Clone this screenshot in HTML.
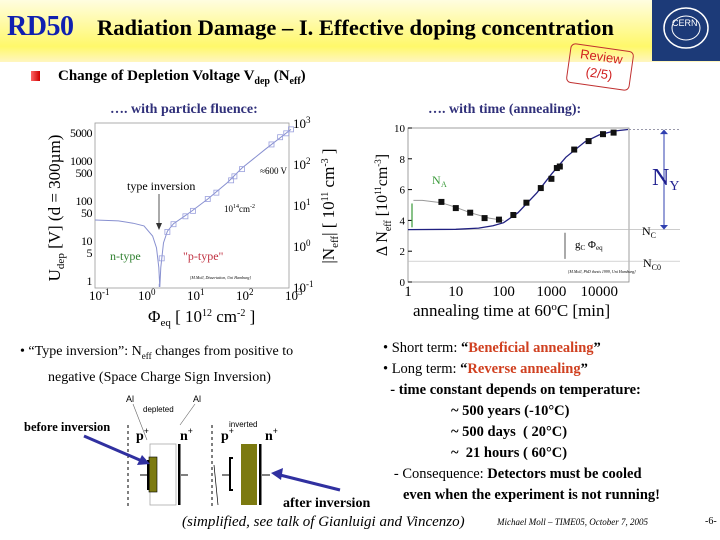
<!DOCTYPE html>
<html><head><meta charset="utf-8">
<style>
body{margin:0;width:720px;height:540px;overflow:hidden;background:#fff;position:relative;font-family:"Liberation Serif",serif;}
.a{position:absolute;white-space:nowrap;}
</style></head>
<body>
<div class="a" style="left:0;top:0;width:720px;height:62px;background:linear-gradient(#fffde0,#fff86a 75%,#fff6c0);"></div>
<div class="a" style="left:7px;top:11px;font-size:28px;font-weight:bold;color:#1020b0;letter-spacing:-0.5px;">RD50</div>
<div class="a" style="left:97px;top:15px;font-size:22.5px;font-weight:bold;color:#000;">Radiation Damage – I. Effective doping concentration</div>
<div class="a" style="left:652px;top:0;width:68px;height:61px;background:#1c3a78;">
<svg width="68" height="61"><ellipse cx="34" cy="28" rx="22" ry="20" fill="none" stroke="#fff" stroke-width="1.5"/><ellipse cx="34" cy="28" rx="14" ry="12" fill="none" stroke="#fff" stroke-width="1"/><text x="20" y="26" font-size="9" fill="#fff" font-family="Liberation Sans">CERN</text></svg></div>
<div class="a" style="left:568px;top:47px;width:62px;height:38px;border:1.5px solid #c03030;border-radius:5px;transform:rotate(8deg);color:#d02020;font-family:'Liberation Sans',sans-serif;font-size:13px;text-align:center;line-height:17px;">Review<br>(2/5)</div>
<div class="a" style="left:31px;top:71px;width:9px;height:10px;background:linear-gradient(90deg,#f66,#c00);"></div>
<div class="a" style="left:58px;top:68px;font-size:15px;font-weight:bold;">Change of Depletion Voltage V<sub style="font-size:10px">dep</sub> (N<sub style="font-size:10px">eff</sub>)</div>
<div class="a" style="left:110px;top:102px;font-size:14px;font-weight:bold;color:#30307a;">…. with particle fluence:</div>
<div class="a" style="left:428px;top:102px;font-size:14px;font-weight:bold;color:#30307a;">…. with time (annealing):</div>

<svg class="a" id="left" style="left:0;top:0" width="360" height="340" font-family="Liberation Serif"></svg>
<svg class="a" id="right" style="left:0;top:0" width="720" height="340" font-family="Liberation Serif"></svg>

<div class="a" style="left:20px;top:341px;font-size:14px;line-height:21px;">• “Type inversion”: N<sub style="font-size:9px">eff</sub> changes from positive to<br><span style="padding-left:28px">negative (Space Charge Sign Inversion)</span></div>
<div class="a" style="left:383px;top:338px;font-size:14.5px;line-height:21px;">
• Short term: <b>“<span style="color:#d04020">Beneficial annealing</span>”</b><br>
• Long term: <b>“<span style="color:#d04020">Reverse annealing</span>”</b><br>
<b>&nbsp;&nbsp;- time constant depends on temperature:</b><br>
<b><span style="padding-left:68px">~ 500 years (-10°C)</span></b><br>
<b><span style="padding-left:68px">~ 500 days&nbsp; ( 20°C)</span></b><br>
<b><span style="padding-left:68px">~&nbsp; 21 hours ( 60°C)</span></b><br>
&nbsp;&nbsp;&nbsp;- Consequence: <b>Detectors must be cooled</b><br>
<b><span style="padding-left:20px">even when the experiment is not running!</span></b></div>

<svg class="a" style="left:0;top:380px" width="380" height="140" font-family="Liberation Sans">
<line x1="128" y1="45" x2="128" y2="128" stroke="#000" stroke-dasharray="3,3"/>
<line x1="212" y1="45" x2="212" y2="128" stroke="#000" stroke-dasharray="3,3"/>
<text x="126" y="22" font-size="9">Al</text><text x="143" y="32" font-size="8">depleted</text><text x="193" y="22" font-size="9">Al</text>
<line x1="133" y1="24" x2="147" y2="60" stroke="#666" stroke-width="0.6"/><line x1="195" y1="24" x2="180" y2="45" stroke="#666" stroke-width="0.6"/>
<text x="136" y="60" font-size="14" font-family="Liberation Serif" font-weight="bold">p<tspan font-size="9" dy="-6">+</tspan></text>
<text x="180" y="60" font-size="14" font-family="Liberation Serif" font-weight="bold">n<tspan font-size="9" dy="-6">+</tspan></text>
<rect x="150" y="64" width="26" height="61" fill="none" stroke="#aaa" stroke-width="0.8"/>
<rect x="149" y="77" width="8" height="35" fill="#7c7a10" stroke="#000" stroke-width="0.6"/>
<rect x="147" y="80" width="2.5" height="30" fill="#000"/><rect x="178" y="64" width="2.5" height="61" fill="#000"/>
<line x1="140" y1="95" x2="148" y2="95" stroke="#000"/><line x1="181" y1="95" x2="188" y2="95" stroke="#000"/>
<text x="221" y="60" font-size="14" font-family="Liberation Serif" font-weight="bold">p<tspan font-size="9" dy="-6">+</tspan></text>
<text x="229" y="47" font-size="8">inverted</text>
<text x="265" y="60" font-size="14" font-family="Liberation Serif" font-weight="bold">n<tspan font-size="9" dy="-6">+</tspan></text>
<rect x="241" y="64" width="16" height="61" fill="#7c7a10"/><rect x="259" y="64" width="2.5" height="61" fill="#000"/>
<path d="M233 78 H230 V110 H233" fill="none" stroke="#000" stroke-width="2"/>
<line x1="222" y1="95" x2="230" y2="95" stroke="#000"/><line x1="262" y1="95" x2="270" y2="95" stroke="#000"/>
<line x1="214" y1="85" x2="218" y2="125" stroke="#000" stroke-width="0.7"/>
<line x1="84" y1="56" x2="142" y2="81" stroke="#3030a0" stroke-width="3"/><polygon points="150,84 137,85 142,75" fill="#3030a0"/>
<line x1="340" y1="110" x2="280" y2="95" stroke="#3030a0" stroke-width="3"/><polygon points="271,93 283,88 281,100" fill="#3030a0"/>
</svg>
<div class="a" style="left:24px;top:420px;font-size:12.5px;font-weight:bold;">before inversion</div>
<div class="a" style="left:283px;top:496px;font-size:14px;font-weight:bold;">after inversion</div>
<div class="a" style="left:182px;top:514px;font-size:15px;font-style:italic;">(simplified, see talk of Gianluigi and Vincenzo)</div>
<div class="a" style="left:497px;top:517px;font-size:9px;font-style:italic;">Michael Moll – TIME05, October 7, 2005</div>
<div class="a" style="left:705px;top:516px;font-size:10px;">-6-</div>

<script>
// ---- left chart data ----
const fluenceCurveX=[0.1,0.3,0.6,1,1.5,1.8,2.0,2.1,2.2,2.5,3,4,7,10,20,50,100,300,1000];
const fluenceCurveY=[4.3,4.1,3.6,3.1,1.75,0.9,0.3,0.1,0.3,1.2,2.3,3.5,5.5,7.5,14,35,80,230,700];
const fluencePtsX=[2.3,3,4,7,10,20,30,60,70,100,400,600,800,1000];
const fluencePtsY=[0.5,2.2,3.4,5.3,7.2,14,20,40,50,75,300,450,560,700];
const udepTicks=[5000,1000,500,100,50,10,5,1];
const neffTicks=["10^3","10^2","10^1","10^0","10^-1"];
const phiTicks=[-1,0,1,2,3];
// ---- right chart data ----
const annealPtsX=[5,10,20,40,80,160,300,600,1000,1300,1500,3000,6000,12000,20000];
const annealPtsY=[5.2,4.8,4.5,4.15,4.05,4.35,5.15,6.1,6.7,7.4,7.5,8.6,9.15,9.6,9.7];
const reverseCurveX=[1,10,30,60,100,200,500,1000,2000,5000,10000,20000,40000];
const reverseCurveY=[3.4,3.42,3.5,3.65,3.85,4.5,5.8,7.0,8.1,9.1,9.55,9.8,9.9];
const shortCurveX=[1.3,2,5,10,20,50,100];
const shortCurveY=[5.3,5.3,5.15,4.85,4.5,4.15,4.0];
const annealXTicks=[1,10,100,1000,10000];
const annealYTicks=[0,2,4,6,8,10];
const NC=3.4, NC0=1.35, NYtop=9.9;

const NS="http://www.w3.org/2000/svg";
function mk(svg,tag,at,txt){const e=document.createElementNS(NS,tag);for(const k in at)e.setAttribute(k,at[k]);if(txt!=null)e.textContent=txt;svg.appendChild(e);return e;}

// left scales
const L=document.getElementById('left');
const lx=v=>95+49*Math.log10(v/0.1);
const ly=v=>287-41*(Math.log10(v)+1);
const uy=v=>280-40*Math.log10(v);
let f=mk(L,'rect',{x:95,y:123,width:194,height:165,fill:'none',stroke:'#999','stroke-width':0.8});

udepTicks.forEach(t=>{let e=mk(L,'text',{x:92,y:uy(t)+5,'font-size':12,'text-anchor':'end','letter-spacing':'-0.5'},t);});
neffTicks.forEach((t,i)=>{const p=t.split('^');let e=mk(L,'text',{x:293,y:ly(Math.pow(10,3-i))+5,'font-size':13},p[0]);mk(e,'tspan',{dy:-5,'font-size':9},p[1]);});
phiTicks.forEach(t=>{let e=mk(L,'text',{x:lx(Math.pow(10,t))-6,y:300,'font-size':13},'10');mk(e,'tspan',{dy:-5,'font-size':9},String(t));});
let c=mk(L,'path',{d:fluenceCurveX.map((v,i)=>(i?'L':'M')+lx(v).toFixed(1)+' '+ly(fluenceCurveY[i]).toFixed(1)).join(' '),fill:'none',stroke:'#8890d0','stroke-width':1});

mk(L,'line',{x1:lx(2.05),y1:ly(0.12),x2:lx(2.05),y2:287,stroke:'#8890d0'});
fluencePtsX.forEach((v,i)=>{let p=mk(L,'rect',{x:lx(v)-2.5,y:ly(fluencePtsY[i])-2.5,width:5,height:5,fill:'none',stroke:'#9aa0dd','stroke-width':0.8});});
mk(L,'text',{x:127,y:190,'font-size':12},'type inversion');
mk(L,'line',{x1:159,y1:194,x2:159,y2:226,stroke:'#555'});mk(L,'polygon',{points:'156,223 162,223 159,230',fill:'#333'});
mk(L,'text',{x:260,y:174,'font-size':9},'≈600 V');
let t1=mk(L,'text',{x:224,y:212,'font-size':9},'10');mk(t1,'tspan',{dy:-4,'font-size':6},'14');mk(t1,'tspan',{dy:4,'font-size':9},'cm');mk(t1,'tspan',{dy:-4,'font-size':6},'-2');
mk(L,'text',{x:110,y:260,'font-size':12,fill:'#308030'},'n-type');
mk(L,'text',{x:183,y:260,'font-size':12,fill:'#c03040'},'"p-type"');
mk(L,'text',{x:190,y:279,'font-size':4,'font-style':'italic'},'[M.Moll, Dissertation, Uni Hamburg]');
let yl=mk(L,'text',{transform:'translate(60,208) rotate(-90)','font-size':17,'text-anchor':'middle'},'U');mk(yl,'tspan',{'font-size':11,dy:4},'dep');mk(yl,'tspan',{dy:-4},' [V]  (d = 300µm)');

let yr=mk(L,'text',{transform:'translate(334,206) rotate(-90)','font-size':17,'text-anchor':'middle'},'|N');mk(yr,'tspan',{'font-size':11,dy:4},'eff');mk(yr,'tspan',{dy:-4},'| [ 10');mk(yr,'tspan',{'font-size':10,dy:-6},'11');mk(yr,'tspan',{dy:6},' cm');mk(yr,'tspan',{'font-size':10,dy:-6},'-3');mk(yr,'tspan',{dy:6},' ]');

let xl=mk(L,'text',{x:148,y:322,'font-size':17},'Φ');mk(xl,'tspan',{'font-size':11,dy:4},'eq');mk(xl,'tspan',{dy:-4},'  [ 10');mk(xl,'tspan',{'font-size':10,dy:-6},'12');mk(xl,'tspan',{dy:6},' cm');mk(xl,'tspan',{'font-size':10,dy:-6},'-2');mk(xl,'tspan',{dy:6},' ]');


// right chart
const R=document.getElementById('right');
const rx=v=>408+47.8*Math.log10(v);
const ry=v=>282-15.4*v;
let rf=mk(R,'rect',{x:408,y:ry(10),width:221,height:154,fill:'none',stroke:'#888','stroke-width':0.8});

annealYTicks.forEach(t=>{let e=mk(R,'text',{x:405,y:ry(t)+4,'font-size':11,'text-anchor':'end'},t);mk(R,'line',{x1:408,y1:ry(t),x2:412,y2:ry(t),stroke:'#000'});});
annealXTicks.forEach(t=>{let e=mk(R,'text',{x:rx(t),y:296,'font-size':15,'text-anchor':'middle'},t);});
mk(R,'line',{x1:408,y1:ry(NC),x2:680,y2:ry(NC),stroke:'#bbb','stroke-width':0.7});
mk(R,'line',{x1:408,y1:ry(NC0),x2:680,y2:ry(NC0),stroke:'#bbb','stroke-width':0.7});
mk(R,'line',{x1:629,y1:ry(NYtop),x2:680,y2:ry(NYtop),stroke:'#99a','stroke-dasharray':'2,2'});
let sc=mk(R,'path',{d:shortCurveX.map((v,i)=>(i?'L':'M')+rx(v).toFixed(1)+' '+ry(shortCurveY[i]).toFixed(1)).join(' '),fill:'none',stroke:'#999','stroke-width':1});

let rc=mk(R,'path',{d:reverseCurveX.map((v,i)=>(i?'L':'M')+rx(v).toFixed(1)+' '+ry(reverseCurveY[i]).toFixed(1)).join(' '),fill:'none',stroke:'#202080','stroke-width':1.3});

annealPtsX.forEach((v,i)=>{let p=mk(R,'rect',{x:rx(v)-3,y:ry(annealPtsY[i])-3,width:6,height:6,fill:'#111'});});
mk(R,'line',{x1:412,y1:ry(5.1),x2:412,y2:ry(3.55),stroke:'#3a9a3a','stroke-width':1.2});
mk(R,'text',{x:432,y:184,'font-size':12,fill:'#3a9a3a'},'N');mk(R,'text',{x:441,y:187,'font-size':8,fill:'#3a9a3a'},'A');
mk(R,'line',{x1:565,y1:ry(3.2),x2:565,y2:ry(1.5),stroke:'#555'});
let gc=mk(R,'text',{x:575,y:248,'font-size':11},'g');mk(gc,'tspan',{'font-size':7,dy:2},'C');mk(gc,'tspan',{dy:-2},' Φ');mk(gc,'tspan',{'font-size':7,dy:2},'eq');
mk(R,'line',{x1:664,y1:ry(9.7),x2:664,y2:ry(3.6),stroke:'#3040b0'});
mk(R,'polygon',{points:`660,${ry(9.6)} 668,${ry(9.6)} 664,${ry(9.9)}`,fill:'#3040b0'});
mk(R,'polygon',{points:`660,${ry(3.7)} 668,${ry(3.7)} 664,${ry(3.4)}`,fill:'#3040b0'});
let ny=mk(R,'text',{x:652,y:185,'font-size':24,fill:'#202090'},'N');mk(ny,'tspan',{'font-size':14,dy:5},'Y');
let nc=mk(R,'text',{x:642,y:235,'font-size':12},'N');mk(nc,'tspan',{'font-size':8,dy:3},'C');
let nc0=mk(R,'text',{x:643,y:267,'font-size':12},'N');mk(nc0,'tspan',{'font-size':8,dy:3},'C0');
mk(R,'text',{x:568,y:273,'font-size':4,'font-style':'italic'},'[M.Moll, PhD thesis 1999, Uni Hamburg]');
let ryt=mk(R,'text',{transform:'translate(387,205) rotate(-90)','font-size':16,'text-anchor':'middle'},'Δ N');mk(ryt,'tspan',{'font-size':10,dy:4},'eff');mk(ryt,'tspan',{dy:-4},' [10');mk(ryt,'tspan',{'font-size':9,dy:-6},'11');mk(ryt,'tspan',{dy:6},'cm');mk(ryt,'tspan',{'font-size':9,dy:-6},'-3');mk(ryt,'tspan',{dy:6},']');

let rxt=mk(R,'text',{x:413,y:316,'font-size':17},'annealing time at 60');mk(rxt,'tspan',{'font-size':11,dy:-6},'o');mk(rxt,'tspan',{dy:6},'C [min]');

</script>
</body></html>
